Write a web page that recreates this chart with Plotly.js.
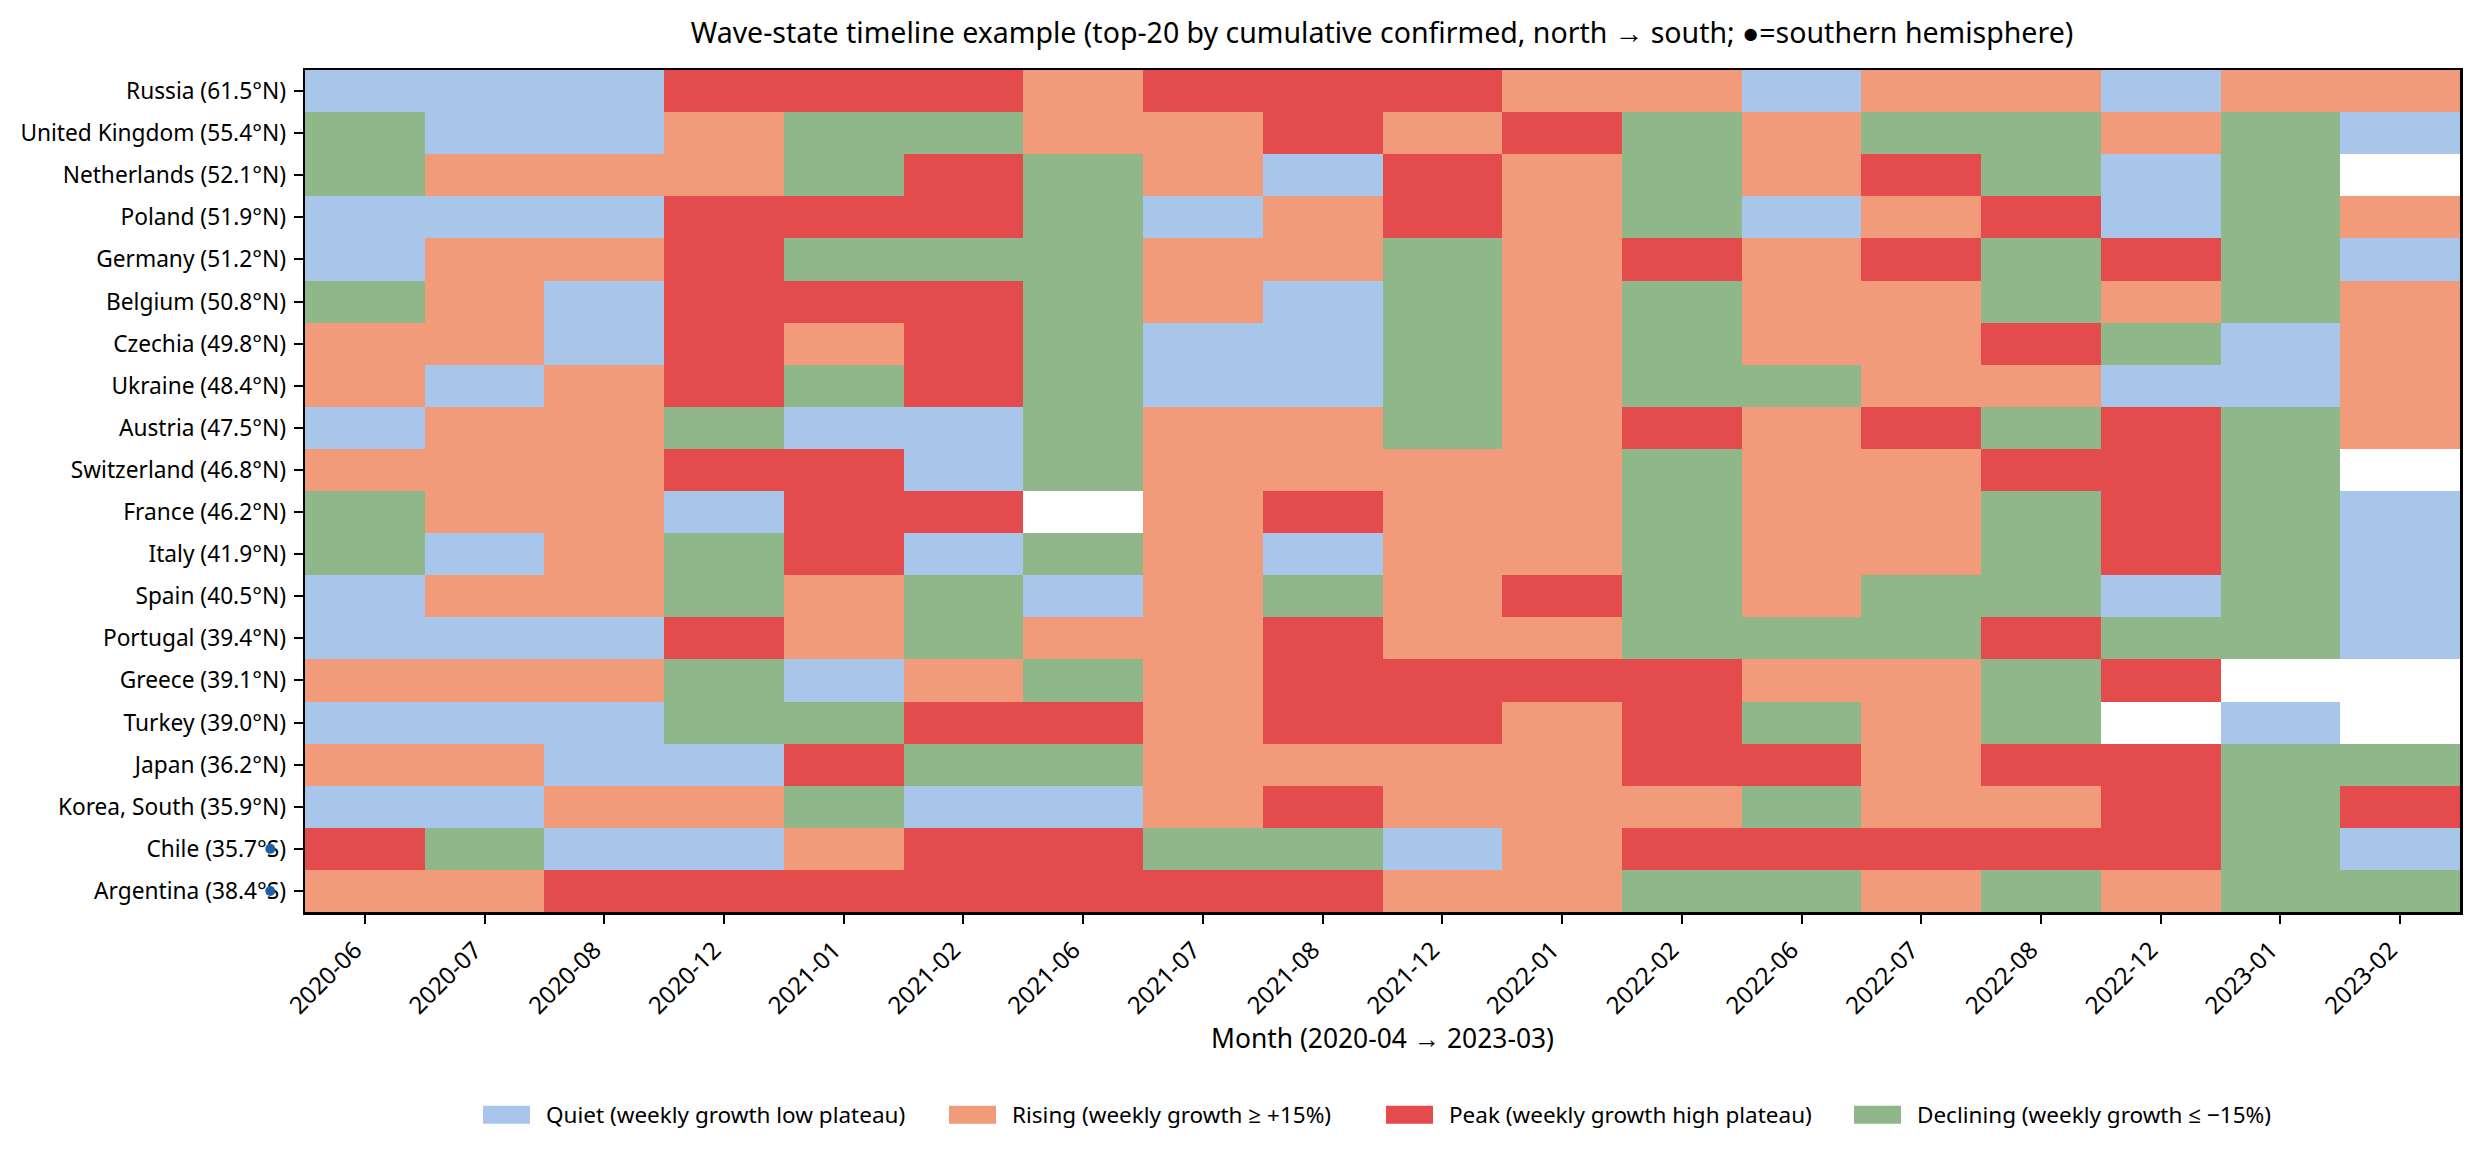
<!DOCTYPE html>
<html><head><meta charset="utf-8">
<script src="https://cdn.plot.ly/plotly-3.0.1.min.js"></script>
<style>html,body{margin:0;padding:0;background:#fff}</style></head>
<body><div id="chart" style="width:2480px;height:1157px"></div>
<script>
const Q=0,R=1,P=2,D=3,N=null;
const months=["2020-06","2020-07","2020-08","2020-12","2021-01","2021-02","2021-06","2021-07","2021-08","2021-12","2022-01","2022-02","2022-06","2022-07","2022-08","2022-12","2023-01","2023-02"];
const countries=["Russia (61.5°N)","United Kingdom (55.4°N)","Netherlands (52.1°N)","Poland (51.9°N)","Germany (51.2°N)","Belgium (50.8°N)","Czechia (49.8°N)","Ukraine (48.4°N)","Austria (47.5°N)","Switzerland (46.8°N)","France (46.2°N)","Italy (41.9°N)","Spain (40.5°N)","Portugal (39.4°N)","Greece (39.1°N)","Turkey (39.0°N)","Japan (36.2°N)","Korea, South (35.9°N)","Chile (35.7°S)","Argentina (38.4°S)"];
const states=[
[Q,Q,Q,P,P,P,R,P,P,P,R,R,Q,R,R,Q,R,R],
[D,Q,Q,R,D,D,R,R,P,R,P,D,R,D,D,R,D,Q],
[D,R,R,R,D,P,D,R,Q,P,R,D,R,P,D,Q,D,N],
[Q,Q,Q,P,P,P,D,Q,R,P,R,D,Q,R,P,Q,D,R],
[Q,R,R,P,D,D,D,R,R,D,R,P,R,P,D,P,D,Q],
[D,R,Q,P,P,P,D,R,Q,D,R,D,R,R,D,R,D,R],
[R,R,Q,P,R,P,D,Q,Q,D,R,D,R,R,P,D,Q,R],
[R,Q,R,P,D,P,D,Q,Q,D,R,D,D,R,R,Q,Q,R],
[Q,R,R,D,Q,Q,D,R,R,D,R,P,R,P,D,P,D,R],
[R,R,R,P,P,Q,D,R,R,R,R,D,R,R,P,P,D,N],
[D,R,R,Q,P,P,N,R,P,R,R,D,R,R,D,P,D,Q],
[D,Q,R,D,P,Q,D,R,Q,R,R,D,R,R,D,P,D,Q],
[Q,R,R,D,R,D,Q,R,D,R,P,D,R,D,D,Q,D,Q],
[Q,Q,Q,P,R,D,R,R,P,R,R,D,D,D,P,D,D,Q],
[R,R,R,D,Q,R,D,R,P,P,P,P,R,R,D,P,N,N],
[Q,Q,Q,D,D,P,P,R,P,P,R,P,D,R,D,N,Q,N],
[R,R,Q,Q,P,D,D,R,R,R,R,P,P,R,P,P,D,D],
[Q,Q,R,R,D,Q,Q,R,P,R,R,R,D,R,R,P,D,P],
[P,D,Q,Q,R,P,P,D,D,Q,R,P,P,P,P,P,D,Q],
[R,R,P,P,P,P,P,P,P,R,R,D,D,R,D,R,D,D]];
const stateNames=["Quiet (weekly growth low plateau)","Rising (weekly growth ≥ +15%)","Peak (weekly growth high plateau)","Declining (weekly growth ≤ −15%)"];
const stateColors=["#a8c6ea","#f19b7b","#e44b4c","#90b78a"];
const southRows=[18,19];
const southMarkerX=-0.79;
const legendLeft=[482,948,1385,1853];
const font="'Noto Sans','Open Sans',sans-serif";
const W=2480,H=1157,L=305,Rt=2460;
const xi=months.map((_,i)=>i), yi=countries.map((_,i)=>i);
const unit=(Rt-L)/months.length;
const cs=[];stateColors.forEach((c,i)=>{cs.push([i/4,c]);cs.push([(i+1)/4,c]);});
const traces=[{type:"heatmap",x:xi,y:yi,z:states,zmin:-0.5,zmax:3.5,colorscale:cs,showscale:false,hoverongaps:false,showlegend:false},
{type:"scatter",mode:"markers",xaxis:"x2",yaxis:"y",x:southRows.map(()=>southMarkerX),y:southRows,showlegend:false,marker:{color:"#1f5fa6",size:10}}];
const layout={
 width:W,height:H,paper_bgcolor:"#fff",plot_bgcolor:"rgba(0,0,0,0)",font:{family:font,color:"#000",size:22},
 margin:{l:0,r:W-Rt,t:70,b:245},
 title:{text:"Wave-state timeline example (top-20 by cumulative confirmed, north → south; ●=southern hemisphere)",font:{size:28.5,family:font,color:"#000"},x:1382/W,xref:"container",xanchor:"center",y:1-33/H,yanchor:"middle"},
 xaxis:{domain:[L/Rt,1],range:[-0.5,17.5],anchor:"y",tickmode:"array",tickvals:xi,ticktext:months,tickangle:-45,ticks:"outside",ticklen:9,tickwidth:2,tickcolor:"#000",tickfont:{size:24},ticklabelshift:-10,ticklabelstandoff:3,
  showline:true,linecolor:"#000",linewidth:2.5,mirror:true,showgrid:false,zeroline:false,title:{text:"Month (2020-04 → 2023-03)",font:{size:26.4},standoff:2}},
 xaxis2:{domain:[0,1],range:[-0.5-L/unit,17.5],anchor:"y",visible:false,fixedrange:true},
 yaxis:{range:[19.5,-0.5],anchor:"x",tickmode:"array",tickvals:yi,ticktext:countries,ticks:"outside",ticklen:9,tickwidth:2,tickcolor:"#000",tickfont:{size:22.7},ticklabelstandoff:3,
  showline:true,linecolor:"#000",linewidth:2.5,mirror:true,showgrid:false,zeroline:false}
};
stateNames.forEach((n,i)=>{
 const key=i===0?"legend":"legend"+(i+1);
 traces.push({type:"scatter",mode:"lines",name:n,legend:key,xaxis:"x",yaxis:"y",x:[null],y:[null],line:{color:stateColors[i],width:10},showlegend:true});
 layout[key]={orientation:"h",xref:"container",yref:"container",x:(legendLeft[i]-4)/W,xanchor:"left",y:1-1115/H,yanchor:"middle",itemwidth:58,font:{size:22.5},bgcolor:"rgba(0,0,0,0)",itemclick:false,itemdoubleclick:false};
});
Plotly.newPlot("chart",traces,layout,{displayModeBar:false,staticPlot:true}).then(()=>{
 document.querySelectorAll(".legendlines path").forEach(p=>{p.style.strokeWidth="18px";p.style.strokeDasharray="47 200";});
});
</script></body></html>
